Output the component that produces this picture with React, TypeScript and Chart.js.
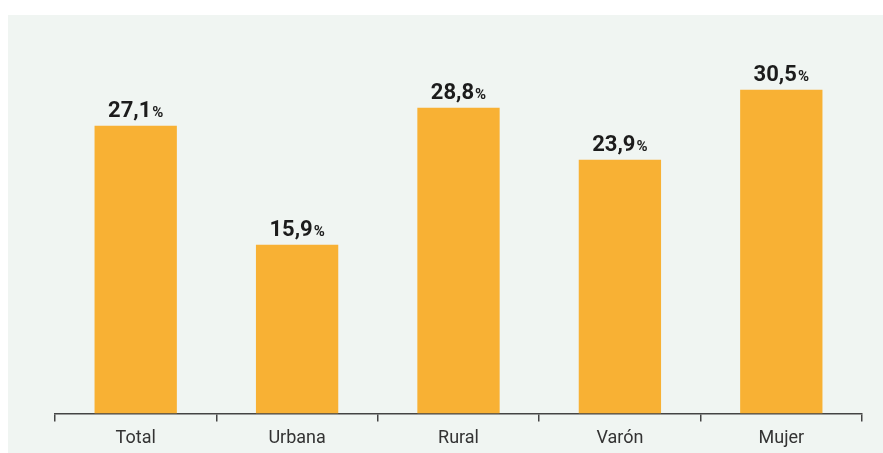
import React, { useEffect, useRef } from "react";
import { Chart, registerables } from "chart.js";

Chart.register(...registerables);

const categories = ["Total", "Urbana", "Rural", "Varón", "Mujer"];
const values = [27.1, 15.9, 28.8, 23.9, 30.5];
const valueLabels = ["27,1", "15,9", "28,8", "23,9", "30,5"];

const labelPlugin = {
  id: "valueLabels",
  afterDatasetsDraw(chart: any) {
    const ctx = chart.ctx;
    const meta = chart.getDatasetMeta(0);
    ctx.save();
    ctx.fillStyle = "#1c1c1c";
    ctx.textBaseline = "alphabetic";
    ctx.textAlign = "left";
    meta.data.forEach((bar: any, i: number) => {
      const num = valueLabels[i];
      ctx.font = "bold 22px Roboto";
      const w1 = ctx.measureText(num).width;
      ctx.font = "bold 15px Roboto";
      const w2 = ctx.measureText("%").width;
      const total = w1 + w2 + 1;
      const x0 = bar.x - total / 2;
      const y = bar.y - 9;
      ctx.font = "bold 22px Roboto";
      ctx.fillText(num, x0, y);
      ctx.font = "bold 15px Roboto";
      ctx.fillText("%", x0 + w1 + 1, y);
    });
    ctx.restore();
  },
};

export default function App() {
  const ref = useRef<HTMLCanvasElement>(null);
  useEffect(() => {
    if (!ref.current) return;
    const chart = new Chart(ref.current, {
      type: "bar",
      data: {
        labels: categories,
        datasets: [
          {
            data: values,
            backgroundColor: "#f8b134",
            barPercentage: 0.51,
            categoryPercentage: 1,
          },
        ],
      },
      options: {
        animation: false,
        responsive: true,
        maintainAspectRatio: false,
        layout: { padding: { left: 47, right: 21, top: 27, bottom: 1 } },
        plugins: { legend: { display: false }, tooltip: { enabled: false } },
        scales: {
          y: { display: false, min: 0, max: 35 },
          x: {
            grid: {
              drawOnChartArea: false,
              tickLength: 8,
              color: "#444",
              lineWidth: 1.5,
            },
            border: { color: "#444", width: 1.5 },
            ticks: {
              color: "#333",
              padding: 6,
              font: { family: "Roboto", size: 18 },
            },
          },
        },
      },
      plugins: [labelPlugin],
    });
    return () => chart.destroy();
  }, []);
  return (
    <div
      style={{
        position: "fixed",
        left: 8,
        top: 15,
        right: 0,
        bottom: -3,
        background: "#f0f5f2",
      }}
    >
      <canvas ref={ref} />
    </div>
  );
}
